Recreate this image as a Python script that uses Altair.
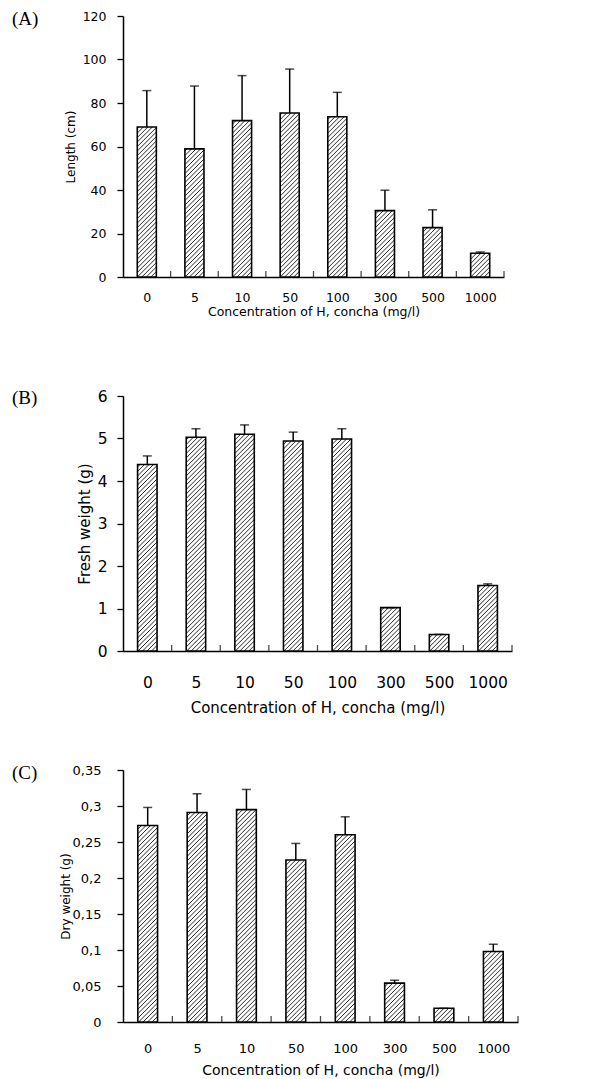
import altair as alt
import pandas as pd

# ---- data ----
cats = ["0", "5", "10", "50", "100", "300", "500", "1000"]

length_mean = [69.0, 58.9, 71.9, 75.4, 73.7, 30.5, 22.7, 10.9]
length_err = [16.7, 28.9, 20.7, 20.2, 11.2, 9.4, 8.2, 0.6]

fresh_mean = [4.39, 5.03, 5.10, 4.94, 4.99, 1.02, 0.39, 1.54]
fresh_err = [0.20, 0.20, 0.22, 0.21, 0.24, 0.0, 0.0, 0.04]

dry_mean = [0.273, 0.291, 0.295, 0.225, 0.260, 0.054, 0.019, 0.098]
dry_err = [0.025, 0.026, 0.028, 0.023, 0.025, 0.004, 0.0, 0.010]

length_ticks = [0, 20, 40, 60, 80, 100, 120]
fresh_ticks = [0, 1, 2, 3, 4, 5, 6]
dry_ticks = [0, 0.05, 0.1, 0.15, 0.2, 0.25, 0.3, 0.35]

X_TITLE = "Concentration of H, concha (mg/l)"
FONT = "DejaVu Sans"
HW = 0.2  # half bar width in category units

cat_js = "[" + ",".join("'" + c + "'" for c in cats) + "]"


def hatch_df(mean, w, h, ymax, spacing=4.5):
    ppx = w / len(cats)
    ppy = h / ymax
    rows = []
    for i, v in enumerate(mean):
        left = i - HW
        bw = 2 * HW * ppx
        vh = v * ppy
        c = -bw + 1.0
        while c < vh:
            x0, y0 = 0.0, c
            x1, y1 = bw, c + bw
            if y0 < 0:
                x0, y0 = -c, 0.0
            if y1 > vh:
                x1, y1 = vh - c, vh
            if x1 - x0 > 0.3:
                rows.append(dict(hx1=left + x0 / ppx, hx2=left + x1 / ppx,
                                 hy1=y0 / ppy, hy2=y1 / ppy))
            c += spacing
    return pd.DataFrame(rows)


def panel(mean, err, ymax, yvals, ytitle, label, w, h,
          fs_lab, fs_xt, fs_yt, xlp, xtp, ylp, ytp, yexpr=None):
    df = pd.DataFrame({
        "pos": list(range(len(cats))),
        "cat": cats,
        "mean": mean,
        "upper": [m + e for m, e in zip(mean, err)],
    })
    df["lo"] = df["pos"] - HW
    df["hi"] = df["pos"] + HW
    bdf = pd.DataFrame({"bx": [i + 0.5 for i in range(len(cats))]})
    hdf = hatch_df(mean, w, h, ymax)

    xs = alt.Scale(domain=[-0.5, len(cats) - 0.5], nice=False, zero=False)
    ys = alt.Scale(domain=[0, ymax], nice=False, zero=True)

    xaxis = alt.Axis(values=list(range(len(cats))),
                     labelExpr=cat_js + "[datum.value]",
                     ticks=False, tickSize=0, grid=False,
                     domainColor="black", domainWidth=1.5,
                     labelFont=FONT, labelFontSize=fs_lab, labelColor="black",
                     labelPadding=xlp, labelOverlap=False,
                     titleFont=FONT, titleFontSize=fs_xt, titleColor="black",
                     titleFontWeight="normal", titlePadding=xtp)
    yargs = dict(values=yvals, tickCount=len(yvals), tickSize=6,
                 tickColor="black", tickWidth=1.3,
                 grid=False, domainColor="black", domainWidth=1.5,
                 labelFont=FONT, labelFontSize=fs_lab, labelColor="black",
                 labelPadding=ylp, labelOverlap=False,
                 titleFont=FONT, titleFontSize=fs_yt, titleColor="black",
                 titleFontWeight="normal", titlePadding=ytp)
    if yexpr:
        yargs["labelExpr"] = yexpr
    yaxis = alt.Axis(**yargs)

    X = lambda f: alt.X(f, scale=xs, axis=xaxis, title=X_TITLE)
    Y = lambda f: alt.Y(f, scale=ys, axis=yaxis, title=ytitle)

    base = alt.Chart(df)
    fill = base.mark_bar(fill="white", strokeWidth=0).encode(
        x=X("lo:Q"), x2="hi:Q", y=Y("mean:Q"), y2=alt.datum(0))
    hatch = alt.Chart(hdf).mark_rule(color="#2a2a2a", strokeWidth=1).encode(
        x=X("hx1:Q"), x2="hx2:Q", y=Y("hy1:Q"), y2="hy2:Q")
    outline = base.mark_bar(fill="white", fillOpacity=0, stroke="black",
                            strokeWidth=1.6).encode(
        x=X("lo:Q"), x2="hi:Q", y=Y("mean:Q"), y2=alt.datum(0))
    ebar = base.mark_rule(color="black", strokeWidth=1.5).encode(
        x=X("pos:Q"), y=Y("mean:Q"), y2="upper:Q")
    cap = base.mark_tick(orient="horizontal", size=9, thickness=1.5,
                         color="black").encode(x=X("pos:Q"), y=Y("upper:Q"))
    bticks = alt.Chart(bdf).mark_tick(orient="vertical", size=6, thickness=1.3,
                                       color="black", yOffset=-3).encode(
        x=X("bx:Q"), y=alt.datum(0))

    return alt.layer(fill, hatch, outline, ebar, cap, bticks).properties(
        width=w, height=h,
        title=alt.TitleParams(text=label, anchor="start", frame="group",
                              orient="top", baseline="top", offset=0,
                              dx=-111, dy=19, font="Liberation Serif",
                              fontSize=19, fontWeight="normal", color="black"))


pA = panel(length_mean, length_err, 120, length_ticks, "Length (cm)", "(A)",
           381, 261, 12.5, 12.5, 12, 14, 2, 11, 5)
pB = panel(fresh_mean, fresh_err, 6, fresh_ticks, "Fresh weight (g)", "(B)",
           389, 255, 15.5, 15, 15, 24, 10, 10, 5)
pC = panel(dry_mean, dry_err, 0.35, dry_ticks, "Dry weight (g)", "(C)",
           395, 252, 13, 14, 12, 20, 8, 16, 0,
           yexpr="replace(format(datum.value, '.2~f'), '.', ',')")

chart = alt.vconcat(pA, pB, pC, spacing=119, bounds="flush").properties(
    padding={"left": 4, "top": 2, "right": 5, "bottom": 5},
    background="white",
).configure_view(stroke="transparent", strokeWidth=0)

chart.save("out.html", embed_options={"renderer": "svg", "actions": False})
